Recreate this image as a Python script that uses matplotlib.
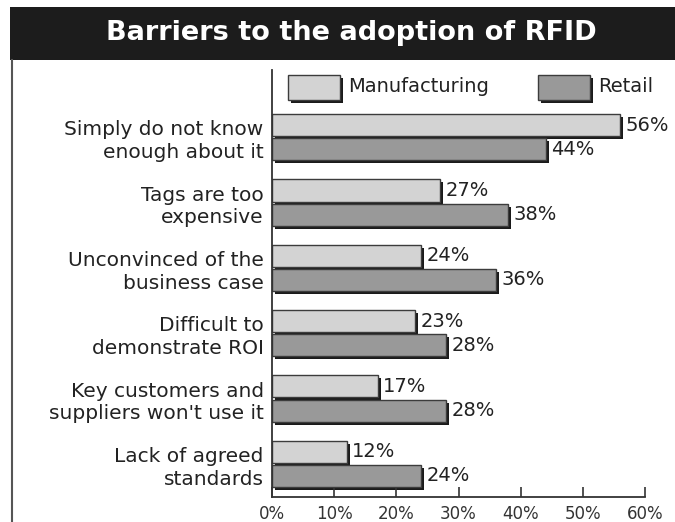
import matplotlib.pyplot as plt
import matplotlib.transforms as mtransforms
from matplotlib.patches import Rectangle
import numpy as np

# values (percent of respondents)
categories = ["Simply do not know\nenough about it",
              "Tags are too\nexpensive",
              "Unconvinced of the\nbusiness case",
              "Difficult to\ndemonstrate ROI",
              "Key customers and\nsuppliers won't use it",
              "Lack of agreed\nstandards"]
manufacturing = [56, 27, 24, 23, 17, 12]
retail = [44, 38, 36, 28, 28, 24]
xticks = [0, 10, 20, 30, 40, 50, 60]

plt.rcParams['font.family'] = ['DejaVu Sans']

fig = plt.figure(figsize=(6.75, 5.22), dpi=100)
W, H = 675, 522

# black title band and left frame line
fig.patches.append(Rectangle((10 / W, 1 - 60 / H), 1, 53 / H, transform=fig.transFigure,
                             facecolor="#1c1c1c", edgecolor="none"))
fig.lines.append(plt.Line2D([12 / W, 12 / W], [0, 1 - 60 / H], transform=fig.transFigure,
                            color="#555555", lw=1.5))
fig.text(351 / W, 1 - 33 / H, "Barriers to the adoption of RFID", color="white",
         fontsize=19.5, fontweight="bold", ha="center", va="center")

ax = fig.add_axes([272 / W, 1 - 497 / H, 373 / W, 427 / H])

y = np.arange(len(categories))
h = 0.338
off = 0.185
light = "#d3d3d3"
dark = "#999999"
edge = "#3c3c3c"

shift = mtransforms.ScaledTranslation(3 / 100, -3 / 100, fig.dpi_scale_trans)

for vals, pos, col in [(manufacturing, y - off, light), (retail, y + off, dark)]:
    ax.barh(pos, vals, height=h, color="#1a1a1a", transform=ax.transData + shift, zorder=1)
    ax.barh(pos, vals, height=h, color=col, edgecolor=edge, linewidth=1, zorder=2)
    for v, p in zip(vals, pos):
        ax.annotate(f"{v}%", (v, p), xytext=(4, 0), textcoords="offset points",
                    va="center", ha="left", fontsize=14, color="#222222")

ax.set_xlim(0, 60)
ax.set_ylim(5.508, -1.03)
ax.set_yticks(y)
ax.set_yticklabels(categories, fontsize=14.5, color="#222222", linespacing=1.25)
ax.tick_params(axis="y", length=0, pad=6)
ax.set_xticks(xticks)
ax.set_xticklabels([f"{t}%" for t in xticks], fontsize=12, color="#333333")
ax.tick_params(axis="x", direction="in", length=7, width=1.2, color="#333333", pad=6)
for s in ["top", "right"]:
    ax.spines[s].set_visible(False)
for s in ["left", "bottom"]:
    ax.spines[s].set_linewidth(1.3)
    ax.spines[s].set_color("#333333")

# legend with shadowed swatches
for x0, col, label in [(0.043, light, "Manufacturing"), (0.713, dark, "Retail")]:
    ax.add_patch(Rectangle((x0, 0.930), 0.139, 0.058, transform=ax.transAxes + shift,
                           facecolor="#1a1a1a", edgecolor="none", clip_on=False, zorder=3))
    ax.add_patch(Rectangle((x0, 0.930), 0.139, 0.058, transform=ax.transAxes,
                           facecolor=col, edgecolor=edge, lw=1, clip_on=False, zorder=4))
    ax.text(x0 + 0.16, 0.962, label, transform=ax.transAxes, fontsize=14,
            va="center", ha="left", color="#222222")

fig.savefig("out.png", dpi=100)
